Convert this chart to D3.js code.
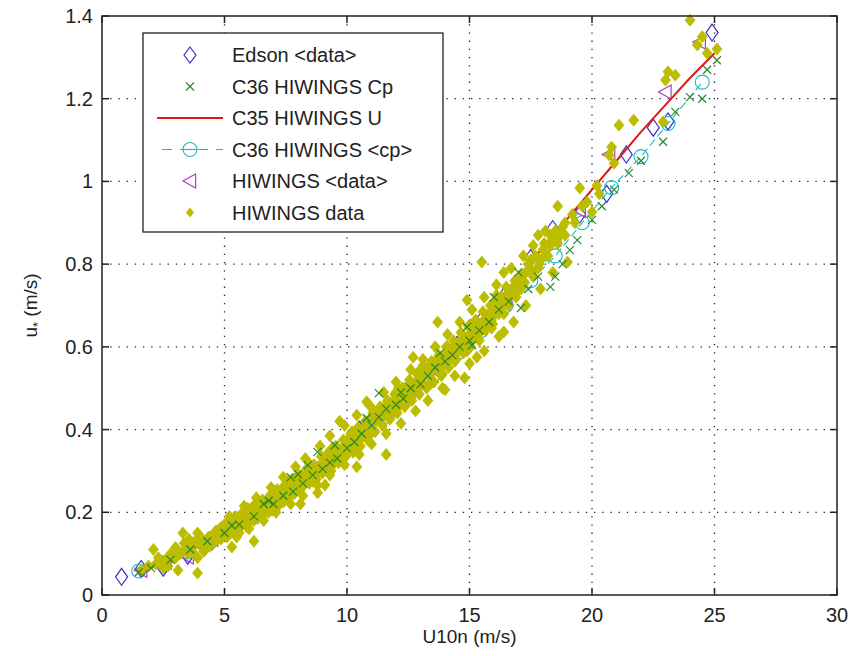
<!DOCTYPE html>
<html>
<head>
<meta charset="utf-8">
<script src="https://cdn.jsdelivr.net/npm/d3@7"></script>
<style>
  body { margin: 0; background: #fff; }
  text { font-family: "Liberation Sans", Arial, sans-serif; fill: #222; }
</style>
</head>
<body>
<div class="chart"></div>
<script>
// ---- data ----
const xTicks = [0, 5, 10, 15, 20, 25, 30];
const yTicks = [0, 0.2, 0.4, 0.6, 0.8, 1, 1.2, 1.4];
const yTickLabels = ['0', '0.2', '0.4', '0.6', '0.8', '1', '1.2', '1.4'];

const legendLabels = ['Edson <data>', 'C36 HIWINGS Cp', 'C35 HIWINGS U', 'C36 HIWINGS <cp>', 'HIWINGS <data>', 'HIWINGS data'];

// Edson <data> (bin means)
const edsonU = [0.8, 1.6, 2.5, 3.5, 4.5, 5.5, 6.5, 7.5, 8.5, 9.5, 10.5, 11.5, 12.5, 13.5, 14.5, 15.5, 16.5, 17.5, 18.4, 19.5, 20.6, 21.4, 22.5, 23.1, 24.9];
const edsonUstar = [0.044, 0.063, 0.066, 0.095, 0.13, 0.17, 0.21, 0.25, 0.3, 0.35, 0.4, 0.445, 0.5, 0.55, 0.605, 0.665, 0.73, 0.815, 0.885, 0.92, 0.97, 1.065, 1.13, 1.145, 1.36];

// C36 HIWINGS Cp (x markers)
const c36Cp = [
  [1.5,0.055],[2.0,0.065],[2.8,0.085],[3.6,0.11],[4.3,0.13],[5.0,0.15],[5.6,0.17],[6.2,0.19],[6.6,0.22],[7.0,0.22],
  [7.4,0.24],[7.7,0.285],[7.8,0.25],[8.2,0.27],[8.4,0.314],[8.6,0.29],[8.8,0.346],[9.0,0.305],[9.3,0.32],[9.6,0.33],
  [10.0,0.355],[10.3,0.37],[10.6,0.39],[11.0,0.41],[11.3,0.488],[11.3,0.43],[11.6,0.45],[12.0,0.46],[12.3,0.475],[12.6,0.5],
  [13.0,0.51],[13.3,0.53],[13.6,0.55],[14.0,0.565],[14.3,0.58],[14.6,0.6],[15.1,0.604],[15.0,0.615],[15.4,0.64],[15.8,0.66],
  [16.2,0.69],[16.6,0.71],[17.1,0.694],[17.4,0.74],[17.8,0.77],[18.3,0.745],[18.5,0.77],[18.8,0.8],[19.1,0.834],[19.4,0.858],
  [20.0,0.907],[20.4,0.94],[20.9,0.98],[21.5,1.02],[22.0,1.05],[22.9,1.096],[23.4,1.168],[24.0,1.204],[24.5,1.2],[24.7,1.27],[25.1,1.293],
  [5.3,0.168],[6.8,0.228],[8.0,0.292],[9.5,0.362],[10.8,0.428],[12.2,0.49],[13.8,0.585],[14.9,0.648],[16.0,0.72],[17.0,0.78]
];

// C35 HIWINGS U (line)
const c35U = [1.5, 2, 3, 4, 5, 6, 7, 8, 9, 10, 11, 12, 13, 14, 15, 16, 17, 18, 19, 20, 21, 22, 23, 24, 25];
const c35Ustar = [0.05, 0.065, 0.09, 0.12, 0.155, 0.19, 0.23, 0.275, 0.32, 0.37, 0.42, 0.47, 0.52, 0.578, 0.638, 0.7, 0.77, 0.84, 0.91, 0.98, 1.05, 1.12, 1.185, 1.25, 1.31];

// C36 HIWINGS <cp> (dashed + circles)
const cpMeanU = [1.5, 2.5, 3.5, 4.5, 5.5, 6.5, 7.5, 8.5, 9.5, 10.5, 11.5, 12.5, 13.5, 14.5, 15.5, 16.5, 17.5, 18.5, 19.6, 20.8, 22.0, 23.1, 24.5];
const cpMeanUstar = [0.058, 0.078, 0.105, 0.135, 0.17, 0.205, 0.245, 0.29, 0.335, 0.385, 0.43, 0.48, 0.53, 0.585, 0.64, 0.7, 0.76, 0.82, 0.9, 0.985, 1.06, 1.14, 1.24];

// HIWINGS <data> (left triangles)
const hiMeanU = [1.6, 2.6, 3.5, 4.5, 5.5, 6.5, 7.5, 8.5, 9.5, 10.5, 11.5, 12.5, 13.5, 14.5, 15.5, 16.5, 17.5, 18.5, 19.5, 20.7, 23.0, 24.4];
const hiMeanUstar = [0.06, 0.08, 0.092, 0.135, 0.17, 0.21, 0.25, 0.295, 0.34, 0.39, 0.44, 0.49, 0.545, 0.6, 0.655, 0.72, 0.8, 0.86, 0.93, 1.065, 1.216, 1.337];

// HIWINGS data (filled dots): scattered points
const hiData = [
  [1.6,0.06],[1.9,0.07],[2.1,0.11],[2.2,0.075],[2.4,0.08],[2.6,0.085],[2.7,0.07],[2.9,0.095],[3.0,0.09],[3.1,0.06],
  [3.2,0.1],[3.3,0.15],[3.4,0.11],[3.5,0.1],[3.6,0.12],[3.7,0.105],[3.8,0.13],[3.9,0.15],[3.9,0.09],[3.9,0.053],
  [4.0,0.12],[4.1,0.135],[4.2,0.11],[4.3,0.125],[4.4,0.14],[4.5,0.13],[4.6,0.15],[4.7,0.14],[4.8,0.16],[4.9,0.145],
  [5.0,0.155],[5.0,0.17],[5.1,0.14],[5.2,0.165],[5.3,0.116],[5.3,0.18],[5.4,0.16],[5.5,0.175],[5.6,0.15],[5.6,0.19],
  [5.7,0.17],[5.8,0.185],[5.9,0.2],[5.9,0.165],[6.0,0.19],[6.1,0.21],[6.2,0.13],[6.2,0.18],[6.3,0.2],[6.4,0.215],
  [6.5,0.19],[6.6,0.22],[6.7,0.205],[6.8,0.23],[6.9,0.215],[7.0,0.225],[7.0,0.245],[7.1,0.21],[7.2,0.235],[7.3,0.25],
  [7.4,0.225],[7.5,0.245],[7.6,0.26],[7.7,0.24],[7.8,0.27],[7.9,0.255],[8.0,0.28],[8.0,0.26],[8.1,0.22],[8.2,0.285],
  [8.3,0.27],[8.4,0.295],[8.5,0.28],[8.6,0.3],[8.7,0.29],[8.8,0.247],[8.8,0.31],[8.9,0.3],[9.0,0.32],[9.0,0.295],
  [9.1,0.266],[9.2,0.33],[9.3,0.315],[9.4,0.335],[9.5,0.32],[9.6,0.345],[9.7,0.42],[9.7,0.33],[9.8,0.355],[9.9,0.34],
  [10.0,0.37],[10.0,0.35],[10.1,0.38],[10.2,0.36],[10.3,0.385],[10.4,0.31],[10.4,0.37],[10.5,0.395],[10.6,0.38],[10.7,0.405],
  [10.8,0.467],[10.8,0.39],[10.9,0.415],[11.0,0.4],[11.0,0.43],[11.1,0.415],[11.2,0.44],[11.3,0.42],[11.4,0.45],[11.5,0.435],
  [11.6,0.34],[11.6,0.46],[11.7,0.44],[11.8,0.465],[11.9,0.45],[12.0,0.47],[12.0,0.49],[12.1,0.455],[12.2,0.48],[12.3,0.5],
  [12.4,0.475],[12.5,0.495],[12.6,0.51],[12.7,0.575],[12.7,0.49],[12.8,0.515],[12.9,0.5],[13.0,0.52],[13.0,0.545],[13.1,0.51],
  [13.2,0.535],[13.3,0.55],[13.4,0.525],[13.5,0.545],[13.6,0.565],[13.7,0.66],[13.7,0.545],[13.8,0.57],[13.9,0.555],[14.0,0.496],
  [14.0,0.58],[14.1,0.565],[14.2,0.59],[14.3,0.575],[14.4,0.6],[14.5,0.585],[14.6,0.61],[14.7,0.595],[14.8,0.525],[14.8,0.62],
  [14.9,0.713],[14.9,0.605],[15.0,0.63],[15.1,0.615],[15.2,0.645],[15.3,0.575],[15.3,0.63],[15.4,0.655],[15.5,0.805],[15.5,0.64],
  [15.6,0.665],[15.7,0.65],[15.8,0.68],[15.9,0.665],[16.0,0.69],[16.1,0.71],[16.2,0.68],[16.3,0.72],[16.4,0.636],[16.4,0.78],
  [16.5,0.705],[16.6,0.73],[16.8,0.745],[17.0,0.76],[17.1,0.74],[17.3,0.78],[17.5,0.79],[17.6,0.77],[17.8,0.87],[17.9,0.81],
  [18.0,0.835],[18.2,0.82],[18.4,0.86],[18.6,0.94],[18.7,0.87],[18.9,0.9],[19.0,0.805],[19.2,0.92],[19.5,0.984],[19.6,0.94],
  [20.0,0.926],[20.2,0.99],[20.7,1.064],[20.8,1.083],[20.9,1.044],[21.1,1.136],[21.7,1.148],[22.9,1.144],[23.0,1.245],[23.1,1.265],
  [23.4,1.257],[24.0,1.39],[24.3,1.33],[24.5,1.35],[24.7,1.31],[25.1,1.32],
  [6.8,0.2],[7.3,0.225],[8.1,0.255],[8.6,0.275],[9.2,0.305],[9.8,0.33],[10.3,0.355],[10.9,0.385],[11.4,0.415],[11.9,0.44],
  [12.4,0.46],[12.9,0.49],[13.4,0.51],[13.9,0.535],[14.4,0.565],[14.9,0.59],[15.4,0.615],[15.9,0.645],[16.4,0.68],[16.9,0.72],
  [7.6,0.275],[8.5,0.315],[9.4,0.355],[10.2,0.395],[11.1,0.445],[12.1,0.5],[13.1,0.555],[14.1,0.6],[15.1,0.655],[16.1,0.725]
];

// HIWINGS data: dense core of the cloud
const hiDataCore = [
  [2.3,0.09],[2.5,0.065],[2.8,0.1],[3.0,0.115],[3.35,0.125],[3.55,0.135],
  [4.1,0.13],[4.15,0.105],[4.35,0.14],[4.4,0.118],[4.6,0.128],[4.65,0.155],[4.85,0.135],[4.9,0.165],[5.05,0.145],[5.15,0.178],
  [5.25,0.15],[5.35,0.17],[5.45,0.19],[5.55,0.16],[5.65,0.182],[5.75,0.2],[5.85,0.172],[5.95,0.21],[6.05,0.18],[6.15,0.195],
  [6.25,0.22],[6.35,0.185],[6.45,0.205],[6.55,0.23],[6.65,0.2],[6.75,0.215],[6.85,0.24],[6.95,0.205],[7.05,0.232],[7.15,0.255],
  [7.25,0.22],[7.35,0.24],[7.45,0.265],[7.55,0.235],[7.65,0.25],[7.75,0.28],[7.85,0.245],[7.95,0.268],[8.05,0.29],[8.15,0.262],
  [8.25,0.275],[8.35,0.305],[8.45,0.27],[8.55,0.29],[8.65,0.315],[8.75,0.28],[8.85,0.3],[8.95,0.335],[9.05,0.305],[9.15,0.318],
  [9.25,0.345],[9.35,0.3],[9.45,0.33],[9.55,0.36],[9.65,0.32],[9.75,0.345],[9.85,0.375],[9.95,0.335],[10.05,0.36],[10.15,0.39],
  [10.25,0.345],[10.35,0.375],[10.45,0.405],[10.55,0.36],[10.65,0.39],[10.75,0.42],[10.85,0.375],[10.95,0.4],[11.05,0.44],[11.15,0.395],
  [11.25,0.425],[11.35,0.455],[11.45,0.41],[11.55,0.44],[11.65,0.47],[11.75,0.425],[11.85,0.455],[11.95,0.485],[12.05,0.44],[12.15,0.47],
  [12.25,0.5],[12.35,0.455],[12.45,0.485],[12.55,0.52],[12.65,0.47],[12.75,0.5],[12.85,0.535],[12.95,0.485],[13.05,0.515],[13.15,0.55],
  [13.25,0.5],[13.35,0.53],[13.45,0.565],[13.55,0.515],[13.65,0.545],[13.75,0.58],[13.85,0.53],[13.95,0.565],[14.05,0.6],[14.15,0.55],
  [14.25,0.58],[14.35,0.615],[14.45,0.57],[14.55,0.6],[14.65,0.635],[14.75,0.585],[14.85,0.615],[14.95,0.65],[15.05,0.6],[15.15,0.63],
  [15.25,0.665],[15.35,0.62],[15.45,0.65],[15.55,0.685],[15.65,0.64],[15.75,0.67],[15.85,0.7],[15.95,0.655],[16.05,0.68],[16.15,0.72],
  [16.25,0.69],[16.35,0.705],[16.5,0.745],[16.6,0.7],[16.7,0.725],[16.85,0.76],[16.95,0.735],[17.1,0.775],[17.25,0.755],[17.4,0.8],
  [17.55,0.78],[17.7,0.82],[17.85,0.8],[18.05,0.85],[18.3,0.845],[18.5,0.88],[18.8,0.89],
  // upper edge of the band
  [5.2,0.19],[5.8,0.215],[6.3,0.235],[6.9,0.26],[7.4,0.285],[7.9,0.31],[8.3,0.33],[8.9,0.36],[9.3,0.385],[9.9,0.41],
  [10.4,0.435],[10.9,0.46],[11.5,0.49],[12.0,0.515],[12.6,0.545],[13.1,0.57],[13.6,0.6],[14.1,0.63],[14.6,0.66],[15.1,0.69],
  [15.6,0.72],[16.1,0.75],[16.7,0.79],[17.2,0.82],[17.6,0.845],[18.1,0.88],
  // lower edge of the band
  [5.5,0.14],[6.0,0.16],[6.6,0.18],[7.1,0.2],[7.7,0.22],[8.2,0.24],[8.8,0.265],[9.3,0.29],[9.9,0.315],[10.5,0.34],
  [11.0,0.365],[11.6,0.39],[12.2,0.415],[12.8,0.445],[13.3,0.47],[13.9,0.5],[14.4,0.53],[15.0,0.56],[15.6,0.59],[16.2,0.625],
  [16.8,0.66],[17.3,0.7],[17.9,0.74],[18.4,0.78],
  // 17-20 m/s fill
  [16.9,0.75],[17.2,0.76],[17.5,0.81],[17.8,0.79],[18.1,0.82],[18.3,0.87],[18.6,0.85],[18.9,0.87],[19.3,0.9],[19.8,0.95],[20.3,0.97]
];

// ---- layout ----
const width = 858, height = 656;
const mLeft = 102, mRight = 837, mTop = 16, mBottom = 595;

const svg = d3.select('.chart').append('svg')
  .attr('width', width)
  .attr('height', height);

const x = d3.scaleLinear().domain([0, 30]).range([mLeft, mRight]);
const y = d3.scaleLinear().domain([0, 1.4]).range([mBottom, mTop]);

// dotted grid
svg.append('g').selectAll('line')
  .data(xTicks.slice(1, -1))
  .enter().append('line')
  .attr('x1', d => x(d)).attr('x2', d => x(d))
  .attr('y1', mTop).attr('y2', mBottom)
  .attr('stroke', '#222').attr('stroke-width', 1.3)
  .attr('stroke-dasharray', '1.3,6.9');
svg.append('g').selectAll('line')
  .data(yTicks.slice(1, -1))
  .enter().append('line')
  .attr('y1', d => y(d)).attr('y2', d => y(d))
  .attr('x1', mLeft).attr('x2', mRight)
  .attr('stroke', '#222').attr('stroke-width', 1.3)
  .attr('stroke-dasharray', '1.3,6.9');

// marker helpers
const diamond = (w, h) => `M0,${-h}L${w},0L0,${h}L${-w},0Z`;
const crossPath = s => `M${-s},${-s}L${s},${s}M${-s},${s}L${s},${-s}`;
const leftTri = s => `M${-s},0L${s * 0.8},${-s}L${s * 0.8},${s}Z`;

const cOlive = '#bcbc00', cBlue = '#3a32c4', cGreen = '#2a8a2a', cRed = '#e01818', cCyan = '#1fb6c2', cMag = '#b03cc0';

const plot = svg.append('g');
const line = d3.line().x(d => x(d[0])).y(d => y(d[1]));

// Edson <data>
plot.selectAll('path.ed')
  .data(edsonU)
  .enter().append('path')
  .attr('class', 'ed')
  .attr('transform', (d, i) => `translate(${x(d)},${y(edsonUstar[i])})`)
  .attr('d', diamond(6, 8.5))
  .attr('fill', 'none').attr('stroke', cBlue).attr('stroke-width', 1.2);

// C36 HIWINGS <cp>
const cpPts = cpMeanU.map((u, i) => [u, cpMeanUstar[i]]);
plot.append('path')
  .datum(cpPts)
  .attr('d', line)
  .attr('fill', 'none').attr('stroke', cCyan).attr('stroke-width', 1.1)
  .attr('stroke-dasharray', '8,4');
plot.selectAll('circle.cm')
  .data(cpPts)
  .enter().append('circle')
  .attr('class', 'cm')
  .attr('cx', d => x(d[0])).attr('cy', d => y(d[1]))
  .attr('r', 7)
  .attr('fill', 'none').attr('stroke', cCyan).attr('stroke-width', 1.1);

// HIWINGS <data>
plot.selectAll('path.hm')
  .data(hiMeanU)
  .enter().append('path')
  .attr('class', 'hm')
  .attr('transform', (d, i) => `translate(${x(d)},${y(hiMeanUstar[i])})`)
  .attr('d', leftTri(7))
  .attr('fill', 'none').attr('stroke', cMag).attr('stroke-width', 1.2);

// C35 HIWINGS U
plot.append('path')
  .datum(c35U.map((u, i) => [u, c35Ustar[i]]))
  .attr('d', line)
  .attr('fill', 'none').attr('stroke', cRed).attr('stroke-width', 2);

// HIWINGS data
plot.selectAll('path.hd')
  .data(hiDataCore.concat(hiData))
  .enter().append('path')
  .attr('class', 'hd')
  .attr('transform', d => `translate(${x(d[0])},${y(d[1])})`)
  .attr('d', diamond(5, 6))
  .attr('fill', cOlive).attr('stroke', cOlive).attr('stroke-width', 0.8);

// C36 HIWINGS Cp
plot.selectAll('path.cp')
  .data(c36Cp)
  .enter().append('path')
  .attr('class', 'cp')
  .attr('transform', d => `translate(${x(d[0])},${y(d[1])})`)
  .attr('d', crossPath(4))
  .attr('fill', 'none').attr('stroke', cGreen).attr('stroke-width', 1.2);

// axes box + ticks
svg.append('rect')
  .attr('x', mLeft).attr('y', mTop)
  .attr('width', mRight - mLeft).attr('height', mBottom - mTop)
  .attr('fill', 'none').attr('stroke', '#222').attr('stroke-width', 1.5);

const tickLen = 7;
const ticks = svg.append('g').attr('stroke', '#222').attr('stroke-width', 1.5);
xTicks.forEach(t => {
  ticks.append('line').attr('x1', x(t)).attr('x2', x(t)).attr('y1', mBottom).attr('y2', mBottom - tickLen);
  ticks.append('line').attr('x1', x(t)).attr('x2', x(t)).attr('y1', mTop).attr('y2', mTop + tickLen);
});
yTicks.forEach(t => {
  ticks.append('line').attr('y1', y(t)).attr('y2', y(t)).attr('x1', mLeft).attr('x2', mLeft + tickLen);
  ticks.append('line').attr('y1', y(t)).attr('y2', y(t)).attr('x1', mRight).attr('x2', mRight - tickLen);
});

svg.selectAll('text.xt')
  .data(xTicks)
  .enter().append('text')
  .attr('class', 'xt')
  .attr('x', d => x(d)).attr('y', 622)
  .attr('text-anchor', 'middle')
  .attr('font-size', '20px')
  .text(d => d);

svg.selectAll('text.yt')
  .data(yTicks)
  .enter().append('text')
  .attr('class', 'yt')
  .attr('x', 93).attr('y', d => y(d) + 7)
  .attr('text-anchor', 'end')
  .attr('font-size', '20px')
  .text((d, i) => yTickLabels[i]);

// axis labels
svg.append('text')
  .attr('x', (mLeft + mRight) / 2).attr('y', 643)
  .attr('text-anchor', 'middle')
  .attr('font-size', '19px')
  .text('U10n (m/s)');

const yl = svg.append('text')
  .attr('transform', `translate(37,${(mTop + mBottom) / 2}) rotate(-90)`)
  .attr('text-anchor', 'middle')
  .attr('font-size', '19px');
yl.append('tspan').text('u');
yl.append('tspan').attr('font-size', '13px').attr('dy', 5).text('*');
yl.append('tspan').attr('dy', -5).text(' (m/s)');

// legend
const lg = svg.append('g');
lg.append('rect')
  .attr('x', 143).attr('y', 33).attr('width', 300).attr('height', 199)
  .attr('fill', '#fff').attr('stroke', '#222').attr('stroke-width', 1.3);

const legY = i => 55 + i * 31.5;
lg.selectAll('text')
  .data(legendLabels)
  .enter().append('text')
  .attr('x', 232).attr('y', (d, i) => legY(i) + 7)
  .attr('font-size', '20px')
  .text(d => d);

const mx = 190;
lg.append('path').attr('transform', `translate(${mx},${legY(0)})`).attr('d', diamond(6, 8))
  .attr('fill', 'none').attr('stroke', cBlue).attr('stroke-width', 1.2);
lg.append('path').attr('transform', `translate(${mx},${legY(1)})`).attr('d', crossPath(4))
  .attr('fill', 'none').attr('stroke', cGreen).attr('stroke-width', 1.2);
lg.append('line').attr('x1', 157).attr('x2', 223).attr('y1', legY(2)).attr('y2', legY(2))
  .attr('stroke', cRed).attr('stroke-width', 2);
lg.append('line').attr('x1', 162).attr('x2', 223).attr('y1', legY(3)).attr('y2', legY(3))
  .attr('stroke', cCyan).attr('stroke-width', 1.1).attr('stroke-dasharray', '10,8');
lg.append('circle').attr('cx', mx).attr('cy', legY(3)).attr('r', 7)
  .attr('fill', '#fff').attr('stroke', cCyan).attr('stroke-width', 1.1);
lg.append('line').attr('x1', mx - 7).attr('x2', mx + 7).attr('y1', legY(3)).attr('y2', legY(3))
  .attr('stroke', cCyan).attr('stroke-width', 1.1);
lg.append('path').attr('transform', `translate(${mx},${legY(4)})`).attr('d', leftTri(7))
  .attr('fill', 'none').attr('stroke', cMag).attr('stroke-width', 1.2);
lg.append('path').attr('transform', `translate(${mx},${legY(5)})`).attr('d', diamond(4, 5))
  .attr('fill', cOlive);
</script>
</body>
</html>
